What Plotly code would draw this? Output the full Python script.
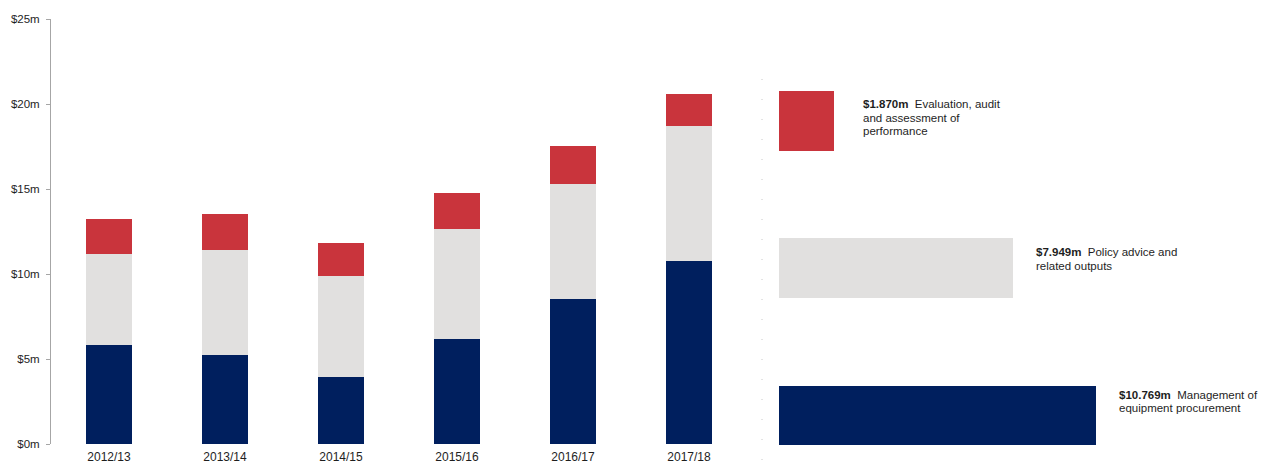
import plotly.graph_objects as go

# Annual departmental expenses by output ($m)
years = ["2012/13", "2013/14", "2014/15", "2015/16", "2016/17", "2017/18"]
procurement = [5.81, 5.25, 3.94, 6.18, 8.51, 10.769]
policy = [5.37, 6.14, 5.92, 6.45, 6.80, 7.949]
evaluation = [2.07, 2.14, 1.95, 2.12, 2.22, 1.870]

y_ticks = [0, 5, 10, 15, 20, 25]
y_tick_labels = ["$0m", "$5m", "$10m", "$15m", "$20m", "$25m"]

# Output descriptions, one list entry per text line
output_names = [
    ["Management of", "equipment procurement"],
    ["Policy advice and", "related outputs"],
    ["Evaluation, audit", "and assessment of", "performance"],
]

NAVY = "#001f5e"
GREY = "#e1e0df"
RED = "#c9343c"
TEXT = "#1e1e1e"
FONT = "Liberation Sans, Arial, sans-serif"

W, H = 1266, 464
BAR_H = 0.405       # thickness of the horizontal breakdown bars
LINE_GAP = 13.5     # label line spacing in px

fig = go.Figure()

# Stacked yearly bars
for vals, col in [(procurement, NAVY), (policy, GREY), (evaluation, RED)]:
    fig.add_trace(go.Bar(
        x=years, y=vals, marker=dict(color=col, line=dict(width=0)),
        width=0.397, xaxis="x", yaxis="y", showlegend=False,
        hoverinfo="x+y",
    ))

# Breakdown of the latest year as horizontal bars
latest = [procurement[-1], policy[-1], evaluation[-1]]
fig.add_trace(go.Bar(
    x=latest, y=[0, 1, 2], orientation="h",
    marker=dict(color=[NAVY, GREY, RED], line=dict(width=0)),
    width=BAR_H, xaxis="x2", yaxis="y2", showlegend=False,
))

annotations = []
xshifts = [21, 21, 27]
first_line = [-9, -14, -13]
for i, (v, lines) in enumerate(zip(latest, output_names)):
    for j, line in enumerate(lines):
        txt = line if j else f"<b>${v:.3f}m</b>\u00a0\u00a0{line}"
        annotations.append(dict(
            x=v, y=i + BAR_H / 2, xref="x2", yref="y2",
            xanchor="left", yanchor="middle", align="left",
            xshift=xshifts[i], yshift=first_line[i] - j * LINE_GAP,
            showarrow=False, text=txt,
            font=dict(family=FONT, size=11.5, color=TEXT),
        ))

fig.update_layout(
    width=W, height=H,
    margin=dict(l=0, r=0, t=0, b=0),
    paper_bgcolor="white", plot_bgcolor="white",
    barmode="stack",
    font=dict(family=FONT, size=11, color=TEXT),
    xaxis=dict(
        domain=[51 / W, 747 / W], type="category",
        showline=False, showgrid=False, ticks="", zeroline=False,
        tickfont=dict(family=FONT, size=12, color=TEXT),
        ticklabelstandoff=4,
        automargin=False,
    ),
    yaxis=dict(
        domain=[20 / H, 445 / H], range=[0, 25],
        tickvals=y_ticks, ticktext=y_tick_labels,
        showline=True, linecolor="#a6a6a6", linewidth=1,
        ticks="outside", ticklen=4, tickcolor="#a6a6a6",
        ticklabelstandoff=4,
        showgrid=False, zeroline=False,
        tickfont=dict(family=FONT, size=11.5, color=TEXT),
        automargin=False,
    ),
    xaxis2=dict(
        domain=[779 / W, 1250 / W], range=[0, 16], anchor="y2",
        visible=False,
    ),
    yaxis2=dict(
        domain=[0, 1], range=[-0.331, 2.823], anchor="x2",
        visible=False,
    ),
    annotations=annotations,
    shapes=[dict(
        type="line", xref="paper", yref="paper",
        x0=762 / W, x1=762 / W, y0=(H - 460) / H, y1=(H - 60) / H,
        line=dict(color="#c8c8c8", width=1, dash="1px,19px"),
    )],
)

fig.write_html("out.html")
